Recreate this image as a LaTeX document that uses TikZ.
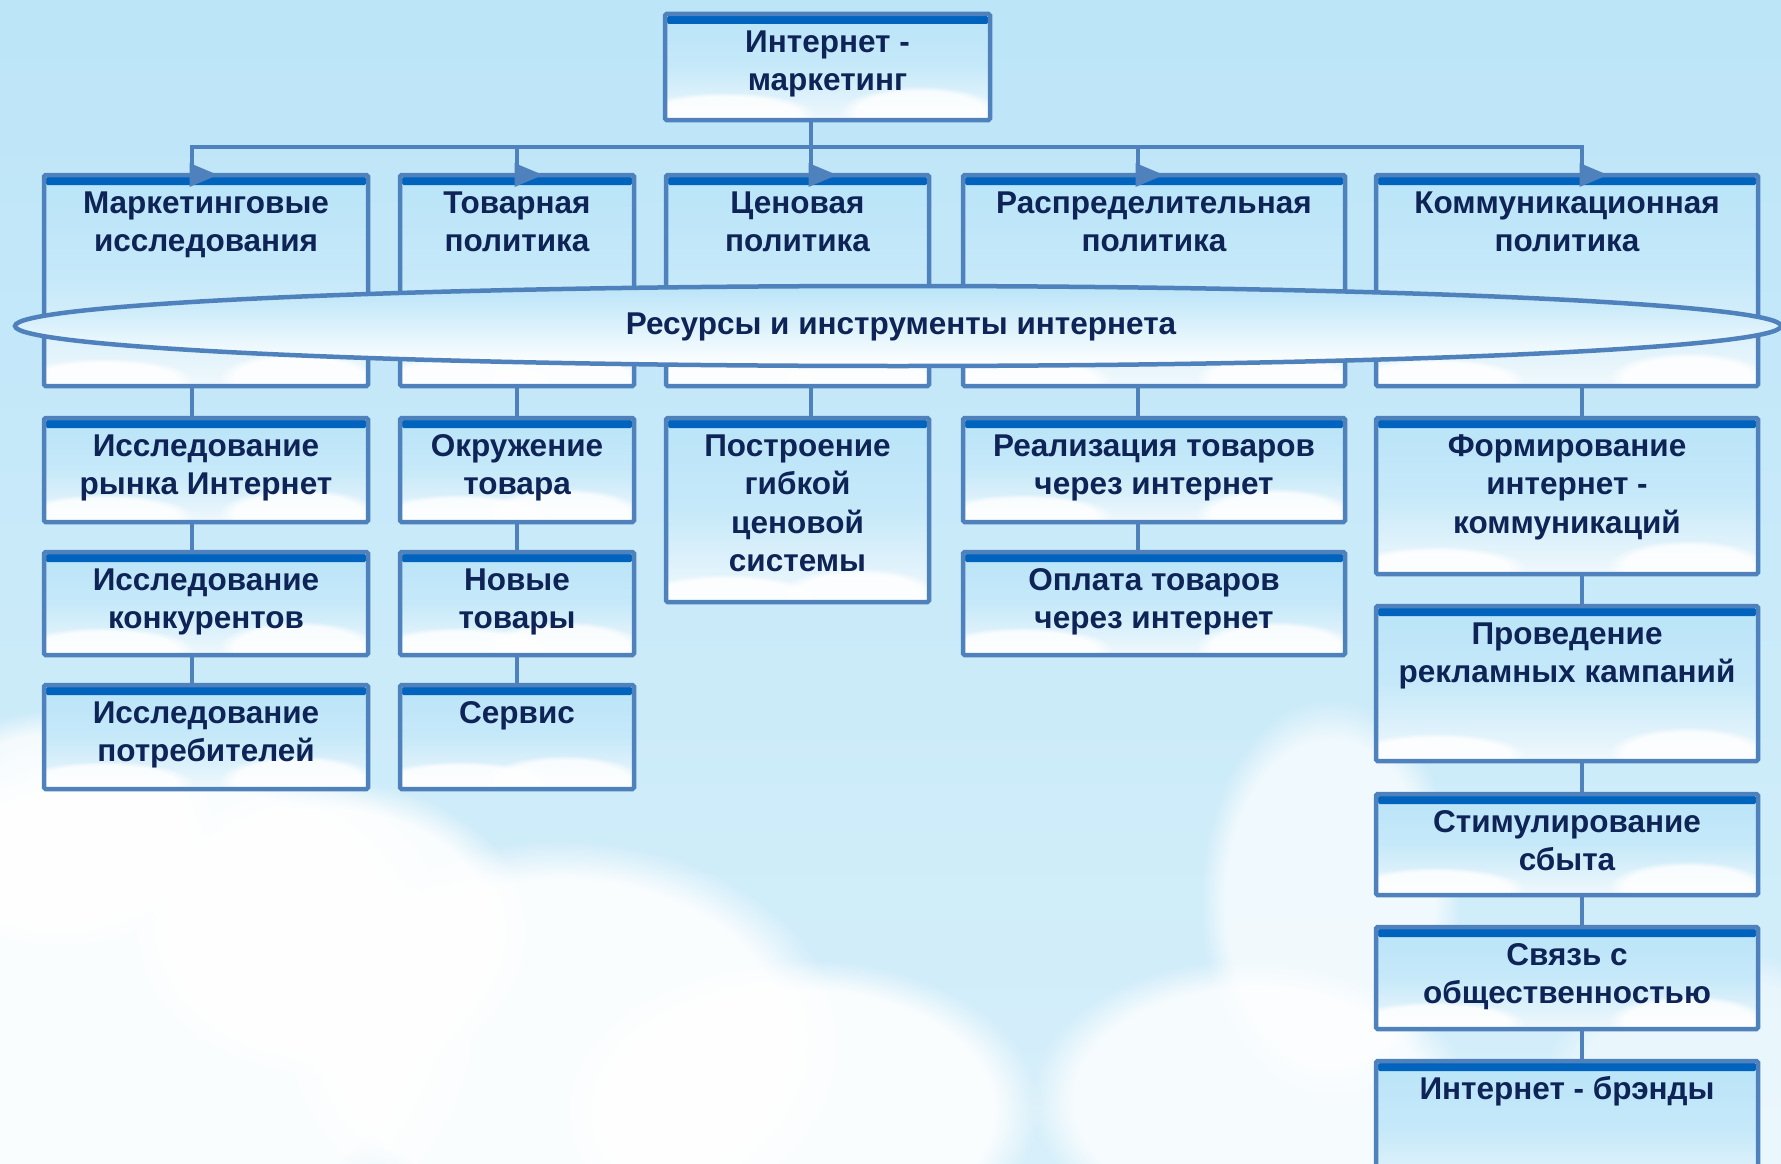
\documentclass[tikz,border=0pt]{standalone}
\usepackage{fontspec}
\setmainfont{Liberation Sans}
\usetikzlibrary{fadings,shapes.geometric}
\definecolor{bgtop}{HTML}{BCE5F8}
\definecolor{bgbot}{HTML}{D6EFFA}
\definecolor{ln}{HTML}{4F81BD}
\definecolor{barc}{HTML}{0063BE}
\definecolor{tx}{HTML}{0E2356}
\definecolor{boxtop}{HTML}{B9E4F8}
\definecolor{boxmid}{HTML}{C6E9F9}
\definecolor{boxbot}{HTML}{F0F8FC}
\tikzset{
  box/.style={draw=ln, line width=4.5pt, rounded corners=1.5pt,
    top color=boxtop, bottom color=boxbot, middle color=boxmid,
    inner sep=0pt, outer sep=0pt,
    path picture={\fill[barc] ([xshift=2pt,yshift=-2pt]path picture bounding box.north west)
        rectangle ([xshift=-2pt,yshift=-10pt]path picture bounding box.north east);
      \fill[white, opacity=0.85, path fading=circle with fuzzy edge 20 percent] ([xshift=60pt,yshift=6pt]path picture bounding box.south west) ellipse (90pt and 22pt);
      \fill[white, opacity=0.85, path fading=circle with fuzzy edge 20 percent] ([xshift=-70pt,yshift=8pt]path picture bounding box.south east) ellipse (80pt and 26pt);}},
  txt/.style={font=\fontsize{31.5}{38.5}\selectfont\bfseries, text=tx, align=center, inner sep=0pt},
  conn/.style={draw=ln, line width=4.5pt},
  ell/.style={ellipse, draw=ln, line width=4.5pt, top color=boxtop, middle color=boxmid, bottom color=white, inner sep=0pt},
  cloud/.style={white, path fading=circle with fuzzy edge 20 percent}
}
\newcommand{\bx}[6]{%
  \node[box, anchor=north west, minimum width=#4pt, minimum height=#5pt] (#1) at (#2,#3) {};
  \node[txt, anchor=north] (#1t) at ([yshift=-10pt]#1.north) {\rule{0pt}{28pt}#6};}
\newcommand{\arrtri}[2]{%
  \fill[ln] ([xshift=-2.5pt,yshift=12pt]#1 |- #2.north) -- ([xshift=26pt]#1 |- #2.north) -- ([xshift=-2.5pt,yshift=-12pt]#1 |- #2.north) -- cycle;}
\begin{document}
\begin{tikzpicture}[x=1pt,y=-1pt]
\useasboundingbox (0,0) rectangle (1781,1164);
\clip (0,0) rectangle (1781,1164);
% background
\shade[top color=bgtop, bottom color=bgbot] (0,0) rectangle (1781,1164);
\fill[cloud, opacity=0.9] (150,1000) ellipse (330 and 280);
\fill[cloud, opacity=0.9] (330,930) ellipse (200 and 150);
\fill[cloud, opacity=0.9] (560,1040) ellipse (280 and 200);
\fill[cloud, opacity=0.9] (800,1110) ellipse (240 and 150);
\fill[cloud, opacity=0.8] (60,830) ellipse (160 and 120);
\fill[cloud, opacity=0.7] (1330,900) ellipse (130 and 200);
\fill[cloud, opacity=0.8] (1250,1100) ellipse (220 and 140);
\fill[cloud, opacity=0.5] (1720,1100) ellipse (180 and 150);
% stems coordinates
\coordinate (x1) at (192,147);
\coordinate (x2) at (517,147);
\coordinate (x3) at (811,147);
\coordinate (x4) at (1138,147);
\coordinate (x5) at (1582,147);
% top box
\bx{top}{665}{14}{325}{106}{Интернет -\\маркетинг}
% row 1
\bx{b1}{44}{175}{324}{211}{Маркетинговые\\исследования}
\bx{b2}{400}{175}{234}{211}{Товарная\\политика}
\bx{b3}{666}{175}{263}{211}{Ценовая\\политика}
\bx{b4}{963}{175}{382}{211}{Распределительная\\политика}
\bx{b5}{1376}{175}{382}{211}{Коммуникационная\\политика}
% column 1
\bx{c1a}{44}{418}{324}{104}{Исследование\\рынка Интернет}
\bx{c1b}{44}{552}{324}{103}{Исследование\\конкурентов}
\bx{c1c}{44}{685}{324}{104}{Исследование\\потребителей}
% column 2
\bx{c2a}{400}{418}{234}{104}{Окружение\\товара}
\bx{c2b}{400}{552}{234}{103}{Новые\\товары}
\bx{c2c}{400}{685}{234}{104}{Сервис}
% column 3
\bx{c3a}{666}{418}{263}{184}{Построение\\гибкой\\ценовой\\системы}
% column 4
\bx{c4a}{963}{418}{382}{104}{Реализация товаров\\через интернет}
\bx{c4b}{963}{552}{382}{103}{Оплата товаров\\через интернет}
% column 5
\bx{c5a}{1376}{418}{382}{156}{Формирование\\интернет -\\коммуникаций}
\bx{c5b}{1376}{606}{382}{155}{Проведение\\рекламных кампаний}
\bx{c5c}{1376}{794}{382}{101}{Стимулирование\\сбыта}
\bx{c5d}{1376}{927}{382}{102}{Связь с\\общественностью}
\bx{c5e}{1376}{1061}{382}{140}{Интернет - брэнды}
% bus
\draw[conn] (x3 |- top.south) -- (x3);
\draw[conn, line cap=rect] (x1) -- (x5);
\draw[conn] (x1) -- ([yshift=10pt]x1 |- b1.north);
\draw[conn] (x2) -- ([yshift=10pt]x2 |- b2.north);
\draw[conn] (x3) -- ([yshift=10pt]x3 |- b3.north);
\draw[conn] (x4) -- ([yshift=10pt]x4 |- b4.north);
\draw[conn] (x5) -- ([yshift=10pt]x5 |- b5.north);
\arrtri{x1}{b1}
\arrtri{x2}{b2}
\arrtri{x3}{b3}
\arrtri{x4}{b4}
\arrtri{x5}{b5}
% vertical connectors
\draw[conn] (x1 |- b1.south) -- (x1 |- c1a.north);
\draw[conn] (x1 |- c1a.south) -- (x1 |- c1b.north);
\draw[conn] (x1 |- c1b.south) -- (x1 |- c1c.north);
\draw[conn] (x2 |- b2.south) -- (x2 |- c2a.north);
\draw[conn] (x2 |- c2a.south) -- (x2 |- c2b.north);
\draw[conn] (x2 |- c2b.south) -- (x2 |- c2c.north);
\draw[conn] (x3 |- b3.south) -- (x3 |- c3a.north);
\draw[conn] (x4 |- b4.south) -- (x4 |- c4a.north);
\draw[conn] (x4 |- c4a.south) -- (x4 |- c4b.north);
\draw[conn] (x5 |- b5.south) -- (x5 |- c5a.north);
\draw[conn] (x5 |- c5a.south) -- (x5 |- c5b.north);
\draw[conn] (x5 |- c5b.south) -- (x5 |- c5c.north);
\draw[conn] (x5 |- c5c.south) -- (x5 |- c5d.north);
\draw[conn] (x5 |- c5d.south) -- (x5 |- c5e.north);
% ellipse
\node[ell, minimum width=1766pt, minimum height=80pt] (res) at (898,326) {};
\node[txt] (rest) at (901,327) {Ресурсы и инструменты интернета};
\end{tikzpicture}
\end{document}
